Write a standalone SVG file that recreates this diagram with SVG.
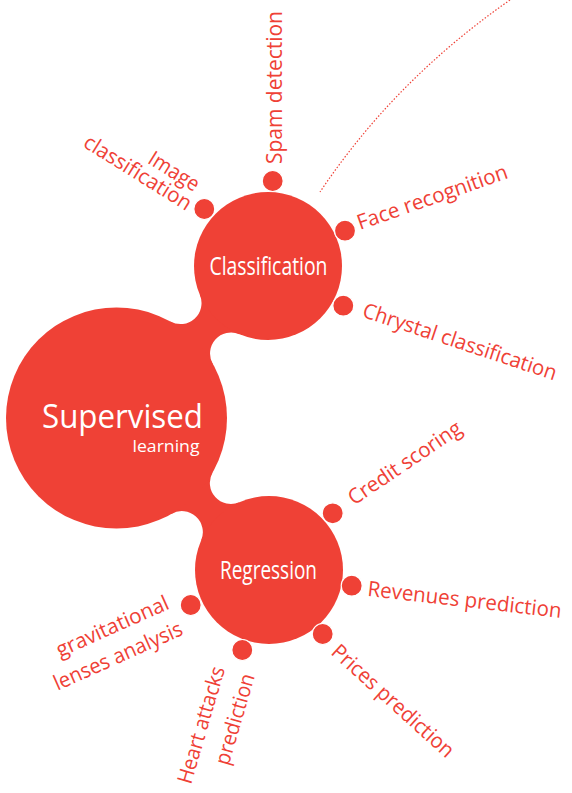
<svg xmlns="http://www.w3.org/2000/svg" width="572" height="793" viewBox="0 0 572 793">
<style>
.blob{fill:#EF4136}
.dot{fill:#EF4136;stroke:#fff;stroke-width:1.2}
.lbl{font-family:"Open Sans","Noto Sans","Liberation Sans",sans-serif;font-size:21px;fill:#EF4136}
.in{font-family:"Open Sans","Noto Sans","Liberation Sans",sans-serif;fill:#fff}
.arc{fill:none;stroke:#EF4136;stroke-width:1.2;stroke-dasharray:1.5 1.8}
</style>
<rect width="572" height="793" fill="#fff"/>
<path class="arc" d="M510,0 Q395,80 320,192"/>
<g id="connectors" class="blob">
<path d="M170.4,321.5 A21,21 0 0 0 199.9,295 L268,266 L239.3,334.2 A21,21 0 0 0 212.8,363.9 L116.5,418 Z"/>
<path d="M171.4,513.9 A21,21 0 0 1 201.1,540.5 L269,570 L239.3,502.2 A21,21 0 0 1 212.6,472.6 L116.5,418 Z"/>
</g>
<g id="supervised">
<circle class="blob" cx="116.5" cy="418" r="110.5"/>
<text class="in" x="42" y="428.3" font-size="32.5" textLength="161" lengthAdjust="spacingAndGlyphs">Supervised</text>
<text class="in" x="132.5" y="452" font-size="17" textLength="67" lengthAdjust="spacingAndGlyphs">learning</text>
</g>
<g id="classification">
<circle class="blob" cx="268" cy="266" r="74"/>
<text class="in" x="209.5" y="275.3" font-size="25.5" textLength="118" lengthAdjust="spacingAndGlyphs">Classification</text>
</g>
<g id="regression">
<circle class="blob" cx="269" cy="570" r="74"/>
<text class="in" x="220" y="579.3" font-size="25.5" textLength="97" lengthAdjust="spacingAndGlyphs">Regression</text>
</g>
<g id="spam-detection">
<circle class="dot" cx="272.7" cy="181" r="10.5"/>
<text class="lbl" transform="translate(282,164) rotate(-90)" textLength="153" lengthAdjust="spacingAndGlyphs">Spam detection</text>
</g>
<g id="image-classification">
<circle class="dot" cx="204.3" cy="209" r="10.5"/>
<text class="lbl" transform="translate(146.5,162.4) rotate(32)" textLength="56" lengthAdjust="spacingAndGlyphs">Image</text>
<text class="lbl" transform="translate(82,146) rotate(32)" textLength="123" lengthAdjust="spacingAndGlyphs">classification</text>
</g>
<g id="face-recognition">
<circle class="dot" cx="345" cy="230.7" r="10.5"/>
<text class="lbl" transform="translate(360,230) rotate(-19.3)" textLength="158" lengthAdjust="spacingAndGlyphs">Face recognition</text>
</g>
<g id="chrystal-classification">
<circle class="dot" cx="343.3" cy="305.7" r="10.5"/>
<text class="lbl" transform="translate(361.3,316.6) rotate(18.3)" textLength="203" lengthAdjust="spacingAndGlyphs">Chrystal classification</text>
</g>
<g id="credit-scoring">
<circle class="dot" cx="332.7" cy="513.3" r="10.5"/>
<text class="lbl" transform="translate(354,505.7) rotate(-34)" textLength="132" lengthAdjust="spacingAndGlyphs">Credit scoring</text>
</g>
<g id="revenues-prediction">
<circle class="dot" cx="351.7" cy="585.7" r="10.5"/>
<text class="lbl" transform="translate(367,595.8) rotate(6.5)" textLength="195" lengthAdjust="spacingAndGlyphs">Revenues prediction</text>
</g>
<g id="prices-prediction">
<circle class="dot" cx="322.7" cy="634" r="10.5"/>
<text class="lbl" transform="translate(329.9,653.5) rotate(42.1)" textLength="157" lengthAdjust="spacingAndGlyphs">Prices prediction</text>
</g>
<g id="gravitational-lenses-analysis">
<circle class="dot" cx="190.7" cy="605" r="10.5"/>
<text class="lbl" transform="translate(60,657.5) rotate(-24)" textLength="121" lengthAdjust="spacingAndGlyphs">gravitational</text>
<text class="lbl" transform="translate(57.4,690.7) rotate(-24)" textLength="139" lengthAdjust="spacingAndGlyphs">lenses analysis</text>
</g>
<g id="heart-attacks-prediction">
<circle class="dot" cx="242.3" cy="650" r="10.5"/>
<text class="lbl" transform="translate(190.9,785) rotate(-73.6)" textLength="121" lengthAdjust="spacingAndGlyphs">Heart attacks</text>
<text class="lbl" transform="translate(228.5,766.2) rotate(-73.6)" textLength="94" lengthAdjust="spacingAndGlyphs">prediction</text>
</g>
</svg>
